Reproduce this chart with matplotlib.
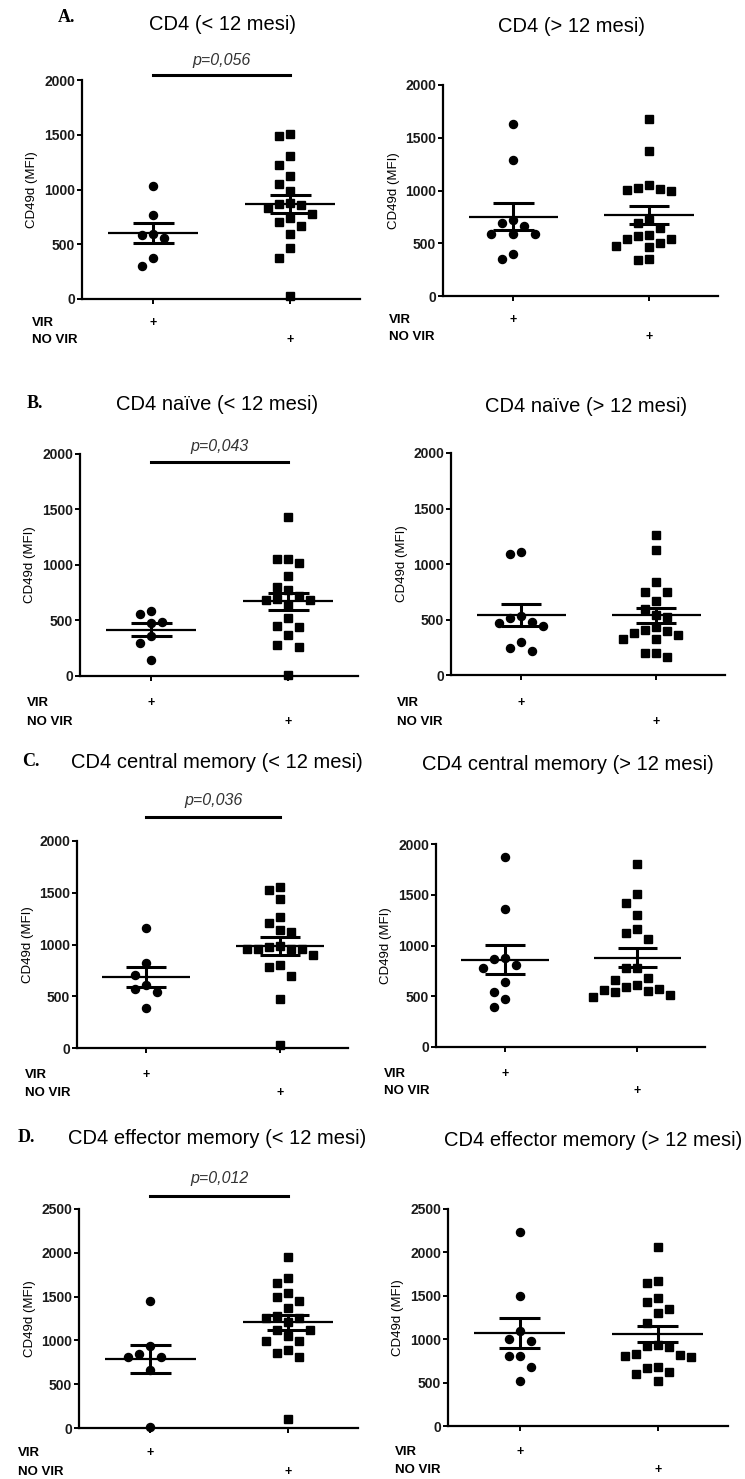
import matplotlib
matplotlib.use("Agg")
import matplotlib.pyplot as plt
import matplotlib.transforms as mtransforms
from matplotlib import font_manager
import numpy as np

plt.rcParams["font.family"] = ["Liberation Sans", "DejaVu Sans"]

W, H = 745, 1479

# ---- data (CD49d MFI) ----
groups = ["VIR", "NO VIR"]
p_labels = ["p=0,056", "p=0,043", "p=0,036", "p=0,012"]
letters = ["A.", "B.", "C.", "D."]

cd4_early_vir = [1030, 770, 580, 560, 590, 370, 300]
cd4_early_novir = [1510, 1490, 1305, 1225, 1125, 1050, 990, 880, 870, 860, 830,
                   780, 740, 700, 670, 590, 470, 370, 30]
cd4_late_vir = [1630, 1290, 725, 690, 665, 590, 590, 590, 400, 350]
cd4_late_novir = [1680, 1370, 1025, 1005, 995, 1015, 1055, 720, 640, 690, 570,
                  540, 465, 475, 505, 540, 580, 345, 350]

naive_early_vir = [560, 590, 490, 480, 360, 300, 140]
naive_early_novir = [1430, 1020, 1050, 1055, 905, 805, 775, 690, 640, 685, 685,
                     720, 520, 445, 450, 370, 280, 265, 10]
naive_late_vir = [1090, 1105, 510, 465, 440, 480, 530, 300, 215, 240]
naive_late_novir = [1265, 1130, 835, 750, 745, 670, 595, 545, 525, 435, 405,
                    380, 360, 395, 320, 320, 200, 195, 160]

cm_early_vir = [1160, 820, 710, 570, 610, 545, 390]
cm_early_novir = [1560, 1525, 1435, 1270, 1205, 1120, 1140, 985, 980, 960, 960,
                  960, 955, 900, 800, 780, 700, 475, 25]
cm_late_vir = [1870, 1360, 865, 880, 775, 805, 640, 545, 470, 395]
cm_late_novir = [1800, 1510, 1420, 1300, 1165, 1120, 1065, 780, 780, 675, 590,
                 575, 560, 545, 610, 665, 550, 510, 495]

em_early_vir = [1445, 940, 845, 805, 805, 665, 10]
em_early_novir = [1955, 1710, 1655, 1545, 1500, 1445, 1370, 1255, 1255, 1275,
                  1215, 1120, 1120, 1045, 990, 990, 895, 855, 810, 105]
em_late_vir = [2230, 1500, 1095, 980, 1000, 805, 805, 675, 520]
em_late_novir = [2065, 1665, 1645, 1470, 1425, 1345, 1300, 1190, 935, 915, 920,
                 820, 800, 805, 830, 685, 670, 625, 595, 520]

# ---- layout, in reference pixels ----
# ax: (y-axis x, top y, zero y, x-axis right end)
panels = [
    dict(title="CD4 (< 12 mesi)", data=(cd4_early_vir, cd4_early_novir), ymax=2000,
         ax=(82, 80, 299, 360), title_xy=(222, 24), labels=(32, 323, 340),
         letter=(58, 18, 0), p=(60, 75, 0)),
    dict(title="CD4 (> 12 mesi)", data=(cd4_late_vir, cd4_late_novir), ymax=2000,
         ax=(443, 85, 296, 718), title_xy=(572, 27), labels=(389, 320, 337)),
    dict(title="CD4 naïve (< 12 mesi)", data=(naive_early_vir, naive_early_novir), ymax=2000,
         ax=(80, 454, 676, 358), title_xy=(217, 405), labels=(27, 703, 722),
         letter=(27, 403, 1), p=(446, 462, 1)),
    dict(title="CD4 naïve (> 12 mesi)", data=(naive_late_vir, naive_late_novir), ymax=2000,
         ax=(451, 453, 675, 725), title_xy=(586, 406), labels=(397, 703, 722)),
    dict(title="CD4 central memory (< 12 mesi)", data=(cm_early_vir, cm_early_novir), ymax=2000,
         ax=(77, 841, 1048, 348), title_xy=(217, 763), labels=(25, 1075, 1093),
         letter=(22, 762, 2), p=(800, 817, 2)),
    dict(title="CD4 central memory (> 12 mesi)", data=(cm_late_vir, cm_late_novir), ymax=2000,
         ax=(436, 844, 1047, 705), title_xy=(568, 764), labels=(384, 1074, 1091)),
    dict(title="CD4 effector memory (< 12 mesi)", data=(em_early_vir, em_early_novir), ymax=2500,
         ax=(79, 1209, 1428, 358), title_xy=(217, 1138), labels=(18, 1453, 1472),
         letter=(18, 1137, 3), p=(1178, 1196, 3)),
    dict(title="CD4 effector memory (> 12 mesi)", data=(em_late_vir, em_late_novir), ymax=2500,
         ax=(448, 1209, 1426, 728), title_xy=(593, 1140), labels=(395, 1452, 1470)),
]

XLIM = (-0.52, 1.51)

names = {f.name for f in font_manager.fontManager.ttflist}
tick_family = "Liberation Sans Narrow" if "Liberation Sans Narrow" in names else "Liberation Sans"


def fx(x):
    return x / W


def fy(y):
    return 1 - y / H


def swarm_offsets(values, px_per_unit, min_dy=12.0, step_px=11.0):
    """Column swarm: each point goes to the nearest free column (0, -1, +1, -2, ...)."""
    values = np.asarray(values, dtype=float)
    order = np.argsort(values)[::-1]
    offsets = np.zeros(len(values))
    placed = {}
    for idx in order:
        y = values[idx] * px_per_unit
        for col in [0, -1, 1, -2, 2, -3, 3, -4, 4]:
            if all(abs(y - other) >= min_dy for other in placed.get(col, [])):
                placed.setdefault(col, []).append(y)
                offsets[idx] = col * step_px
                break
    return offsets


fig = plt.figure(figsize=(W / 100, H / 100), dpi=100)

for spec in panels:
    axx, top, zero, right = spec["ax"]
    ax = fig.add_axes([fx(axx), fy(zero), (right - axx) / W, (zero - top) / H])
    ax.set_xlim(*XLIM)
    ax.set_ylim(0, spec["ymax"])
    px_per_unit = (zero - top) / spec["ymax"]
    px_per_cat = (right - axx) / (XLIM[1] - XLIM[0])

    for i, (vals, marker) in enumerate(zip(spec["data"], ["o", "s"])):
        vals = np.asarray(vals, dtype=float)
        off = swarm_offsets(vals, px_per_unit) / px_per_cat
        ax.plot(i + off, vals, linestyle="none", marker=marker, markersize=5.8,
                color="black", clip_on=False, zorder=3)
        mean = vals.mean()
        sem = vals.std(ddof=1) / np.sqrt(len(vals))
        ax.hlines(mean, i - 0.33, i + 0.33, color="black", linewidth=1.6, zorder=4)
        ax.hlines([mean - sem, mean + sem], i - 0.15, i + 0.15, color="black",
                  linewidth=2.2, zorder=4)
        ax.vlines(i, mean - sem, mean + sem, color="black", linewidth=2.2, zorder=4)

    for side in ["top", "right"]:
        ax.spines[side].set_visible(False)
    for side in ["left", "bottom"]:
        ax.spines[side].set_linewidth(1.6)
    ax.set_xticks([0, 1])
    ax.set_xticklabels([])
    ax.set_yticks(np.arange(0, spec["ymax"] + 1, 500))
    ax.tick_params(axis="both", direction="out", width=1.4, length=3.5)
    ax.tick_params(axis="y", pad=1.5)
    for lab in ax.get_yticklabels():
        lab.set_fontweight("bold")
        lab.set_fontsize(10)
        lab.set_family(tick_family)
        lab.set_color("#1a1a1a")
    ax.set_ylabel("CD49d (MFI)", fontsize=9.5, labelpad=4)
    ax.patch.set_alpha(0)

    # title
    tx, ty = spec["title_xy"]
    fig.text(fx(tx), fy(ty), spec["title"], ha="center", va="center", fontsize=14.5)

    # group rows under the axis
    blend = mtransforms.blended_transform_factory(ax.transData, fig.transFigure)
    lx, y_vir, y_novir = spec["labels"]
    for j, (name, ly) in enumerate(zip(groups, [y_vir, y_novir])):
        fig.text(fx(lx), fy(ly), name, ha="left", va="center", fontsize=9.5,
                 fontweight="bold")
        ax.text(j, fy(ly), "+", transform=blend, ha="center", va="center",
                fontsize=9, fontweight="bold")

    if "letter" in spec:
        lx, ly, k = spec["letter"]
        fig.text(fx(lx), fy(ly), letters[k], ha="left", va="center", fontsize=13,
                 fontweight="bold", family=["Liberation Serif", "DejaVu Serif"])
        py_text, py_bar, k = spec["p"]
        ax.plot([0, 1], [fy(py_bar)] * 2, transform=blend, color="black",
                linewidth=2.2, clip_on=False)
        ax.text(0.5, fy(py_text), p_labels[k], transform=blend, ha="center",
                va="center", fontsize=11.5, style="italic", color="#333333")

fig.savefig("out.png", dpi=100)
